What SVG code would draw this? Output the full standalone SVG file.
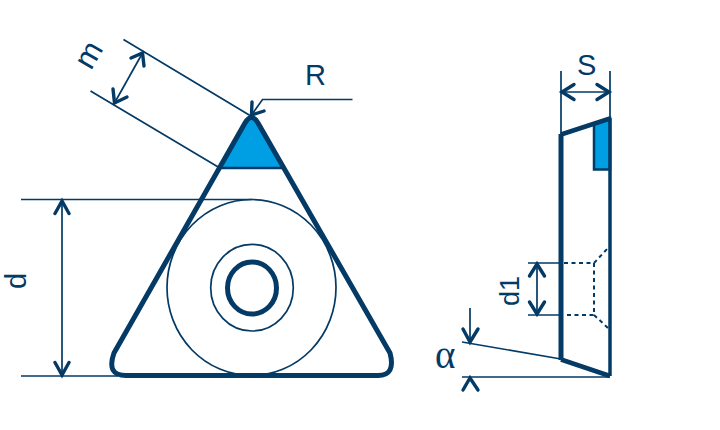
<svg xmlns="http://www.w3.org/2000/svg" width="720" height="430" viewBox="0 0 720 430">
<style>
.t{font-family:"Liberation Sans",Arial,sans-serif;font-size:29px;fill:#033a66}
.thin{fill:none;stroke:#033a66;stroke-width:1.7}
.ah{fill:none;stroke:#033a66;stroke-width:3.400;stroke-linecap:round;stroke-linejoin:miter}
.bold{fill:none;stroke:#033a66;stroke-width:5;stroke-linejoin:round}
.dash{fill:none;stroke:#033a66;stroke-width:2;stroke-dasharray:4 3.500}
</style>
<rect width="720" height="430" fill="#fff"/>
<g id="connectors">
<path class="thin" d="M21 199.500H252M21 376H118"/>
<path class="thin" d="M62 201V375"/>
<path class="ah" d="M55 213.500L62 201L69 213.500M55 362.500L62 375L69 362.500"/>
<path class="thin" d="M123.500 39.500L250 115.500M90.500 91L219 167.500"/>
<path class="thin" d="M142.500 53L114.500 103"/>
<path class="ah" d="M131 58L142.500 53L144 66M113 89L114.500 103L127 97"/>
<path class="thin" d="M352.500 99.500H262.500L251.500 115"/>
<path class="ah" d="M252 102L251.500 115L264 111"/>
<path class="thin" d="M561 71V134M610 71V118M562 92H609"/>
<path class="ah" d="M574 84.500L562 92L574 99.500M597 84.500L609 92L597 99.500"/>
<path class="thin" d="M528 263H561M528 315H561M537 264V314"/>
<path class="ah" d="M529.500 276L537 264L544.500 276M529.500 302L537 314L544.500 302"/>
<path class="thin" d="M462 342L561 359M462 377H610M470 308V342"/>
<path class="ah" d="M463 329L470 342L478 329M463 390L470 378L478 390"/>
</g>
<g id="triangle-view">
<path d="M219 168L245 123Q251.500 112 258 123L284 168Z" fill="#009fe3"/>
<path class="bold" d="M218 168H284" style="stroke-width:2.500"/>
<path class="bold" d="M245 123Q251.500 112 258 123L390 353Q396 375.500 378 375.500H126Q106 375.500 114 353Z"/>
<ellipse class="thin" cx="251.500" cy="287.500" rx="84.500" ry="88"/>
<ellipse class="thin" cx="252" cy="287.700" rx="41.300" ry="43.300"/>
<ellipse class="bold" cx="252" cy="288" rx="24.500" ry="26"/>
</g>
<g id="side-view">
<path d="M594 124L610 118V169.500H594Z" fill="#009fe3" stroke="#033a66" stroke-width="2.500"/>
<path d="M610 118V376" fill="none" stroke="#033a66" stroke-width="3.500"/>
<path d="M561 134V360" stroke="#033a66" stroke-width="5" fill="none"/>
<path d="M561 134.500L610 118.500M561 359.500L610 376" stroke="#033a66" stroke-width="4.500" fill="none"/>
<path class="dash" d="M564 263H594V315H564M594 263L608 248M594 315L608 328"/>
</g>
<g id="labels">
<text class="t" transform="translate(91,71) rotate(-60)" style="font-size:31px">m</text>
<text class="t" x="305" y="85">R</text>
<text class="t" transform="translate(26,289) rotate(-90)">d</text>
<text class="t" x="577" y="75">S</text>
<text class="t" transform="translate(519,306) rotate(-90)" style="font-size:27px">d1</text>
<text class="t" x="435" y="368" style="font-family:'Liberation Serif',serif;font-size:39px">α</text>
</g>
</svg>
